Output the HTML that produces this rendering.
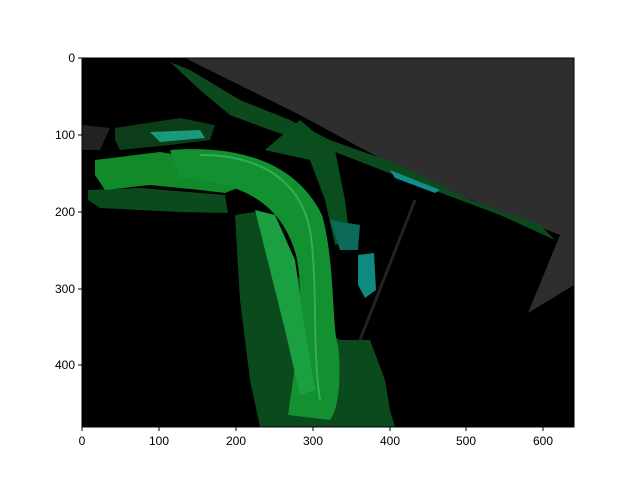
<!DOCTYPE html>
<html><head><meta charset="utf-8"><style>
body{margin:0;background:#fff;}
svg{display:block;font-family:"Liberation Sans","DejaVu Sans",sans-serif;}
</style></head><body>
<svg width="640" height="480" viewBox="0 0 640 480">
<g>
<rect x="82" y="58" width="492" height="369" fill="#000"/>
<polygon points="185,58 574,58 574,285 528,313 560,235 420,180 300,115" fill="#2e2e2e"/>
<polygon points="82,125 110,128 100,150 82,150" fill="#222"/>
<polygon points="170,62 190,70 240,100 290,120 330,140 400,165 470,200 540,225 555,240 500,215 420,185 330,150 270,130 230,115 200,90" fill="#0c4a1e"/>
<polygon points="390,170 440,190 435,193 395,178" fill="#0f8f8a"/>
<path d="M115,128 L180,118 L215,125 L210,140 L170,145 L120,150 L115,140 Z" fill="#0b3d18"/>
<path d="M150,132 L200,130 L205,138 L160,142 Z" fill="#1a9a7a"/>
<path d="M88,190 L140,188 L225,195 L228,213 L180,212 L100,208 L88,200 Z" fill="#0b4a1c"/>
<path d="M95,160 L160,152 L240,165 L245,185 L225,193 L200,190 L150,185 L105,190 L95,175 Z" fill="#118a2a"/>
<path d="M235,215 L255,212 L275,240 L300,280 L320,330 L340,340 L370,340 L385,380 L390,410 L395,427 L260,427 L250,380 L240,300 Z" fill="#0a4a1c"/>
<path d="M265,150 L300,120 L335,150 L345,200 L350,240 L335,245 L325,200 L310,160 Z" fill="#0b4e1e"/>
<path d="M170,150 C235,145 295,160 322,215 C335,260 332,330 338,345 C342,380 338,410 330,420 L288,415 C296,360 306,300 296,255 C282,205 245,182 180,178 Z" fill="#139030"/>
<path d="M200,155 C260,155 300,180 310,230 C318,280 312,350 320,400" fill="none" stroke="#5fd08a" stroke-width="2" opacity="0.45"/>
<path d="M255,210 L275,215 L295,260 L305,330 L315,390 L300,395 L285,330 L270,270 Z" fill="#1aa040"/>
<path d="M358,255 L374,253 L376,290 L365,298 L358,285 Z" fill="#0e8a80"/>
<path d="M330,220 L360,225 L358,250 L340,250 Z" fill="#0b6a5a"/>
<line x1="360" y1="340" x2="415" y2="200" stroke="#444" stroke-width="3" opacity="0.5"/>
</g>
<rect x="82" y="58" width="492" height="369" fill="none" stroke="#000" stroke-width="1"/>
<g font-size="12" text-anchor="middle" fill="#000">
<g stroke="#000"><line x1="82" y1="427" x2="82" y2="431"/><line x1="159" y1="427" x2="159" y2="431"/><line x1="236" y1="427" x2="236" y2="431"/><line x1="313" y1="427" x2="313" y2="431"/><line x1="390" y1="427" x2="390" y2="431"/><line x1="466" y1="427" x2="466" y2="431"/><line x1="543" y1="427" x2="543" y2="431"/></g>
<text x="82" y="445">0</text><text x="159" y="445">100</text><text x="236" y="445">200</text><text x="313" y="445">300</text><text x="390" y="445">400</text><text x="466" y="445">500</text><text x="543" y="445">600</text>
</g>
<g font-size="12" text-anchor="end" fill="#000">
<g stroke="#000"><line x1="78" y1="58" x2="82" y2="58"/><line x1="78" y1="135" x2="82" y2="135"/><line x1="78" y1="212" x2="82" y2="212"/><line x1="78" y1="289" x2="82" y2="289"/><line x1="78" y1="365" x2="82" y2="365"/></g>
<text x="75" y="62">0</text><text x="75" y="139">100</text><text x="75" y="216">200</text><text x="75" y="293">300</text><text x="75" y="369">400</text>
</g>
</svg>
</body></html>
